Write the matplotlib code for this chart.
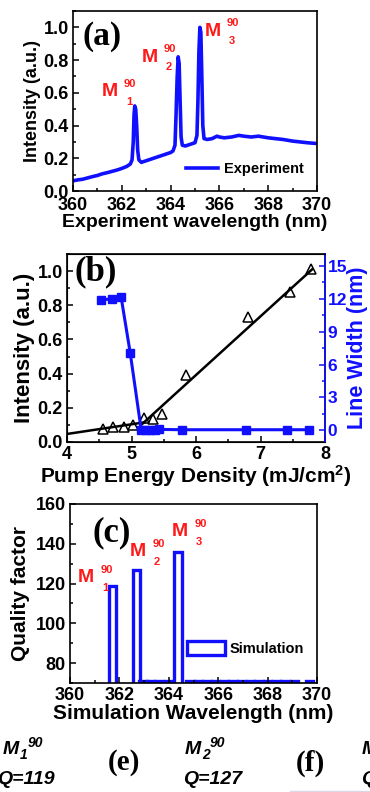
import matplotlib
matplotlib.use("Agg")
import matplotlib.pyplot as plt
from matplotlib.ticker import MultipleLocator

plt.rcParams['font.family'] = ['Liberation Sans', 'DejaVu Sans']
plt.rcParams['font.weight'] = 'bold'
plt.rcParams['axes.labelweight'] = 'bold'
plt.rcParams['mathtext.fontset'] = 'custom'
plt.rcParams['mathtext.bf'] = 'Liberation Sans:bold'
plt.rcParams['mathtext.rm'] = 'Liberation Sans:bold'
plt.rcParams['mathtext.default'] = 'bf'

BLUE = '#1010ff'
RED = '#ff1a1a'

# (a) experimental spectrum
exp_wl = [360.0, 360.2, 360.4, 360.6, 360.8, 361.0, 361.2, 361.4, 361.6, 361.8,
          362.0, 362.2, 362.35, 362.42, 362.47, 362.50, 362.53, 362.57, 362.61, 362.65,
          362.70, 362.8, 363.0, 363.2, 363.4, 363.6, 363.8, 364.0, 364.1, 364.18,
          364.22, 364.27, 364.31, 364.35, 364.39, 364.43, 364.48, 364.6, 364.8, 365.0,
          365.08, 365.12, 365.16, 365.2, 365.24, 365.28, 365.32, 365.37, 365.5, 365.7,
          365.9, 366.0, 366.2, 366.5, 366.8, 367.0, 367.3, 367.6, 368.0, 368.3,
          368.6, 369.0, 369.3, 369.6, 370.0]
exp_int = [0.062, 0.068, 0.072, 0.080, 0.088, 0.095, 0.105, 0.112, 0.120, 0.128,
           0.138, 0.150, 0.165, 0.19, 0.30, 0.46, 0.52, 0.50, 0.40, 0.25,
           0.19, 0.175, 0.185, 0.195, 0.205, 0.215, 0.225, 0.235, 0.245, 0.28,
           0.45, 0.70, 0.82, 0.78, 0.55, 0.33, 0.28, 0.275, 0.285, 0.295,
           0.34, 0.55, 0.85, 1.0, 0.97, 0.70, 0.40, 0.32, 0.315, 0.320,
           0.335, 0.33, 0.325, 0.330, 0.340, 0.335, 0.330, 0.335, 0.325, 0.320,
           0.315, 0.305, 0.300, 0.295, 0.290]

# (b) threshold data
pump_tri = [4.56, 4.72, 4.88, 5.02, 5.20, 5.34, 5.47, 5.84, 6.80, 7.46, 7.78]
int_tri = [0.078, 0.088, 0.088, 0.10, 0.14, 0.137, 0.166, 0.39, 0.73, 0.88, 1.01]
fit_low_x = [4.0, 5.2]
fit_low_y = [0.047, 0.115]
fit_high_x = [5.15, 7.8]
fit_high_y = [0.10, 1.01]
pump_sq = [4.52, 4.69, 4.84, 4.98, 5.15, 5.22, 5.29, 5.36, 5.43, 5.79, 6.77, 7.41, 7.75]
width_sq = [11.9, 12.0, 12.13, 7.07, 0.05, 0.05, 0.05, 0.05, 0.08, 0.05, 0.05, 0.05, 0.05]

# (c) simulated quality factors
sim_wl = [361.73, 362.7, 364.37, 362.95, 363.25, 363.6, 364.0, 364.85, 365.2, 365.55,
          365.9, 366.25, 366.6, 366.95, 367.3, 367.65, 368.0, 368.35, 368.7, 369.1, 369.7]
sim_q = [119, 127, 136, 70.8, 70.8, 70.8, 70.8, 70.8, 70.8, 70.8,
         70.8, 70.8, 70.8, 70.8, 70.8, 70.8, 70.8, 70.8, 70.8, 70.8, 70.8]

mode_names = ['1', '2', '3']
mode_q = [119, 127, 136]

W, H = 370, 792
fig = plt.figure(figsize=(W / 100, H / 100), dpi=100)


def box(l, t, r, b):
    return [l / W, 1 - b / H, (r - l) / W, (b - t) / H]


def bold_ticks(ax):
    for lab in ax.get_xticklabels() + ax.get_yticklabels():
        lab.set_fontweight('bold')


def style(ax, xmaj, xmin, ymaj, ymin):
    ax.xaxis.set_major_locator(MultipleLocator(xmaj))
    ax.xaxis.set_minor_locator(MultipleLocator(xmin))
    ax.yaxis.set_major_locator(MultipleLocator(ymaj))
    ax.yaxis.set_minor_locator(MultipleLocator(ymin))
    ax.tick_params(which='both', direction='in', width=1.1)
    ax.tick_params(which='major', length=4, labelsize=13, pad=3)
    ax.tick_params(which='minor', length=2.5)
    for s in ax.spines.values():
        s.set_linewidth(1.2)


def ftext(x, y, s, **kw):
    fig.text(x / W, 1 - y / H, s, **kw)


# ---- (a)
axa = fig.add_axes(box(73, 11, 317, 191))
axa.plot(exp_wl, exp_int, color=BLUE, lw=2.6, label='Experiment')
axa.set_xlim(360, 370)
axa.set_ylim(0, 1.1)
style(axa, 2, 1, 0.2, 0.1)
axa.tick_params(axis='x', pad=4)
axa.set_xlabel('Experiment wavelength (nm)', fontsize=14, labelpad=0)
axa.set_ylabel('Intensity (a.u.)', fontsize=13, labelpad=2)
axa.legend(loc='lower right', bbox_to_anchor=(1.0, 0.01), frameon=False,
           prop={'size': 10.5, 'weight': 'bold'}, handlelength=2.2, handletextpad=0.4)
ftext(82, 36, '(a)', fontsize=24, family='Liberation Serif', weight='bold', va='center')
for (mx, my), name in zip([(102, 92), (142, 57), (205, 31)], mode_names):
    ftext(mx, my, 'M', color=RED, fontsize=14, weight='bold', va='center')
    ftext(mx + 22, my - 8, '90', color=RED, fontsize=8, weight='bold', va='center')
    ftext(mx + 24, my + 10, name, color=RED, fontsize=8, weight='bold', va='center')

# ---- (b)
axb = fig.add_axes(box(67, 254, 325, 442))
axb.plot(fit_low_x, fit_low_y, color='black', lw=1.8)
axb.plot(fit_high_x, fit_high_y, color='black', lw=1.8)
axb.plot(pump_tri, int_tri, ls='none', marker='^', ms=7, mfc='none', mec='black', mew=1.1)
axb.set_xlim(4, 8)
axb.set_ylim(0, 1.1)
style(axb, 1, 0.5, 0.2, 0.1)
axb.set_xlabel('Pump Energy Density (mJ/cm$^2$)', fontsize=15, labelpad=0)
axb.set_ylabel('Intensity (a.u.)', fontsize=16, labelpad=2)
axb2 = axb.twinx()
axb2.plot(pump_sq, width_sq, color=BLUE, lw=2.2, marker='s', ms=6)
axb2.set_ylim(-1.07, 16.1)
axb2.yaxis.set_major_locator(MultipleLocator(3))
axb2.yaxis.set_minor_locator(MultipleLocator(1.5))
axb2.tick_params(which='both', direction='in', width=1.1, colors=BLUE)
axb2.tick_params(which='major', length=4, labelsize=12.5, pad=2)
axb2.tick_params(which='minor', length=2.5)
axb2.spines['right'].set_color(BLUE)
axb2.spines['right'].set_linewidth(1.2)
axb2.set_ylabel('Line Width (nm)', fontsize=15.5, color=BLUE, labelpad=0)
ftext(75, 272, '(b)', fontsize=25, family='Liberation Serif', weight='bold', va='center')

# ---- (c)
axc = fig.add_axes(box(70, 504, 317, 683))
axc.bar(sim_wl, sim_q, width=0.3, facecolor='white', edgecolor=BLUE,
        linewidth=2.4, label='Simulation')
axc.set_xlim(360, 370)
axc.set_ylim(70, 160)
style(axc, 2, 1, 20, 10)
axc.set_xlabel('Simulation Wavelength (nm)', fontsize=15, labelpad=0)
axc.set_ylabel('Quality factor', fontsize=15, labelpad=4)
axc.legend(loc='lower right', bbox_to_anchor=(1.0, 0.08), frameon=False,
           prop={'size': 10.5, 'weight': 'bold'}, handlelength=2.6, handleheight=1.1,
           handletextpad=0.3)
ftext(92, 533, '(c)', fontsize=25, family='Liberation Serif', weight='bold', va='center')
for (mx, my), name in zip([(78, 578), (130, 552), (172, 532)], mode_names):
    ftext(mx, my, 'M', color=RED, fontsize=14, weight='bold', va='center')
    ftext(mx + 23, my - 8, '90', color=RED, fontsize=8, weight='bold', va='center')
    ftext(mx + 24, my + 10, name, color=RED, fontsize=8, weight='bold', va='center')

for ax in (axa, axb, axb2, axc):
    bold_ticks(ax)

# ---- strip of the lower panels
bottom = [(3, 749, 55), (185, 749, 242), (362, 749, 420)]
for (mx, my, qx), name, q in zip(bottom, mode_names, mode_q):
    ftext(mx, my, 'M', fontsize=14, weight='bold', style='italic', va='center')
    ftext(mx + 17, my + 6, name, fontsize=10, weight='bold', style='italic', va='center')
    ftext(mx + 25, my - 6, '90', fontsize=10, weight='bold', style='italic', va='center')
    ftext(qx, 779, 'Q=%d' % q, fontsize=14, weight='bold', style='italic',
          va='center', ha='right')
ftext(108, 763, '(e)', fontsize=21, family='Liberation Serif', weight='bold', va='center')
ftext(296, 763, '(f)', fontsize=21, family='Liberation Serif', weight='bold', va='center')
fig.add_artist(plt.Line2D([290 / W, 1], [1 - 791 / H] * 2, color='#d8d8e8', lw=1))

fig.savefig('out.png', dpi=100)
